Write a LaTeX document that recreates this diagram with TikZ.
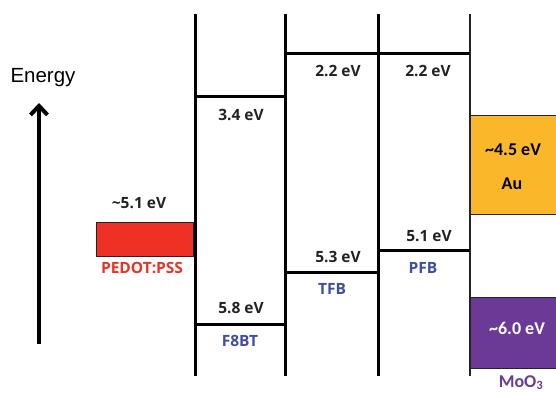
\documentclass[tikz,border=0pt]{standalone}
\usepackage{fontspec}
\setmainfont{Open Sans}
\newfontfamily\energyfont{Liberation Sans}
\newfontfamily\metalfont{Carlito}
\usetikzlibrary{arrows.meta,positioning}
\definecolor{bRed}{RGB}{238,49,36}
\definecolor{bBlue}{RGB}{62,78,160}
\definecolor{bGold}{RGB}{250,183,42}
\definecolor{bPurple}{RGB}{107,58,150}
\definecolor{bInk}{RGB}{35,35,35}
\tikzset{
wall/.style={line width=3pt,draw=black},
thinwall/.style={line width=1.4pt,draw=bInk},
level/.style={line width=3pt,draw=black},
evlabel/.style={font=\fontsize{15.5}{17}\selectfont\bfseries,text=bInk,inner sep=0pt},
matlabel/.style={font=\fontsize{15.5}{17}\selectfont\bfseries,text=bBlue,inner sep=0pt},
metal/.style={rectangle,draw=bInk,line width=1pt,minimum width=86pt,inner sep=0pt,anchor=north west},
metaltext/.style={font=\metalfont\fontsize{18}{20}\selectfont\bfseries,inner sep=0pt},
arrow/.style={-{Straight Barb[length=9pt,width=17pt,line width=4pt]},line width=4pt,draw=black}
}
\begin{document}
\begin{tikzpicture}[x=1pt,y=-1pt]
\useasboundingbox (0,0) rectangle (556,392);
% axis
\coordinate (abase) at (39,344);
\coordinate (atip) at (39,103);
\draw[arrow] (abase)--(atip);
\node[font=\energyfont\fontsize{20.5}{22}\selectfont,inner sep=0pt] (energy) at (43,78) {Energy};
% columns
\foreach \x in {195,285,378} \draw[wall] (\x,14)--(\x,376);
\draw[thinwall] (470,14)--(470,376);
% PEDOT:PSS
\node[rectangle,draw=bInk,line width=1pt,fill=bRed,minimum width=97pt,minimum height=34pt,inner sep=0pt,anchor=north west] (pedot) at (96,222) {};
\node[evlabel,above=13pt of pedot,xshift=-6pt] (pedotev) {\textasciitilde5.1 eV};
\node[matlabel,text=bRed,below=5pt of pedot,xshift=-3pt] (pedotname) {PEDOT:PSS};
% F8BT
\coordinate (f8l) at (195,96); \coordinate (f8r) at (285,96);
\coordinate (f8hl) at (195,324); \coordinate (f8hr) at (285,324);
\draw[level] (f8l)--(f8r);
\draw[level] (f8hl)--(f8hr);
\node[evlabel] (f8lumo) at (241,115) {3.4 eV};
\node[evlabel] (f8homo) at (241,308) {5.8 eV};
\node[matlabel] (f8name) at (240,341) {F8BT};
% TFB
\coordinate (tfl) at (285,53); \coordinate (tfr) at (378,53);
\coordinate (tfhl) at (285,272); \coordinate (tfhr) at (378,272);
\draw[level] (tfl)--(tfr);
\draw[level] (tfhl)--(tfhr);
\node[evlabel] (tflumo) at (338,71) {2.2 eV};
\node[evlabel] (tfhomo) at (338,257) {5.3 eV};
\node[matlabel] (tfname) at (332,289) {TFB};
% PFB
\coordinate (pfl) at (378,53); \coordinate (pfr) at (470,53);
\coordinate (pfhl) at (378,250); \coordinate (pfhr) at (470,250);
\draw[level] (pfl)--(pfr);
\draw[level] (pfhl)--(pfhr);
\node[evlabel] (pflumo) at (428,71) {2.2 eV};
\node[evlabel] (pfhomo) at (429,236) {5.1 eV};
\node[matlabel] (pfname) at (423,268) {PFB};
% electrodes
\node[metal,fill=bGold,minimum height=99pt] (au) at (470,115) {};
\node[metaltext] (auev) at (513,150) {\textasciitilde4.5 eV};
\node[metaltext] (auname) at (512,184) {Au};
\node[metal,fill=bPurple,minimum height=71pt] (moo) at (470,297) {};
\node[metaltext,text=white] (mooev) at (517,328) {\textasciitilde6.0 eV};
\node[metaltext,text=bPurple,anchor=north] (mooname) at (521,375) {MoO\textsubscript{3}};
\end{tikzpicture}
\end{document}
